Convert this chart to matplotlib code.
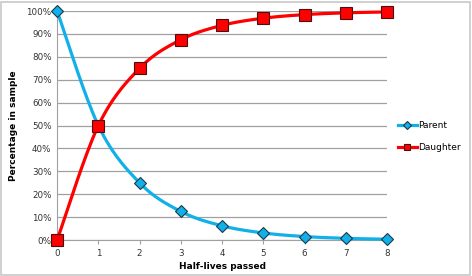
import matplotlib.pyplot as plt
import numpy as np
from matplotlib.patches import Rectangle
from matplotlib.lines import Line2D

half_lives = [0, 1, 2, 3, 4, 5, 6, 7, 8]
parent = [100, 50, 25, 12.5, 6.25, 3.13, 1.56, 0.78, 0.39]
daughter = [0, 50, 75, 87.5, 93.75, 96.87, 98.44, 99.22, 99.61]


def smooth(x, y, n=30, k=6.0):
    # bezier smoothing like excel's "smoothed line"
    x = np.asarray(x, float)
    y = np.asarray(y, float)
    px = np.concatenate([[x[0]], x, [x[-1]]])
    py = np.concatenate([[y[0]], y, [y[-1]]])
    xs, ys = [], []
    t = np.linspace(0, 1, n)
    for i in range(1, len(px) - 2):
        p0, p1, p2, p3 = [np.array([px[j], py[j]]) for j in (i - 1, i, i + 1, i + 2)]
        c1 = p1 + (p2 - p0) / k
        c2 = p2 - (p3 - p1) / k
        pts = ((1 - t) ** 3)[:, None] * p1 + (3 * (1 - t) ** 2 * t)[:, None] * c1 \
            + (3 * (1 - t) * t ** 2)[:, None] * c2 + (t ** 3)[:, None] * p2
        xs.extend(pts[:, 0])
        ys.extend(pts[:, 1])
    return xs, ys


blue = '#12B0E8'
red = '#FF0000'

fig = plt.figure(figsize=(4.72, 2.76), dpi=100)
ax = fig.add_axes([0.121, 0.130, 0.699, 0.830])

sx, sy = smooth(half_lives, parent)
ax.plot(sx, sy, color=blue, lw=2.3, clip_on=False, zorder=3)
ax.plot(half_lives, parent, ls='none', marker='D', ms=6.5, mfc=blue, mec='#1a3a4a',
        mew=0.8, clip_on=False, zorder=4)
sx, sy = smooth(half_lives, daughter)
ax.plot(sx, sy, color=red, lw=2.3, clip_on=False, zorder=3)
ax.plot(half_lives, daughter, ls='none', marker='s', ms=8, mfc=red, mec='#4a1010',
        mew=0.8, clip_on=False, zorder=4)

ax.set_xlim(0, 8)
ax.set_ylim(0, 100)
ax.set_yticks(range(0, 101, 10))
ax.set_yticklabels([f'{v}%' for v in range(0, 101, 10)])
ax.set_xticks(half_lives)
ax.grid(axis='y', color='#a0a0a0', lw=0.9)
ax.set_axisbelow(True)
for s in ['top', 'right']:
    ax.spines[s].set_visible(False)
ax.spines['left'].set_color('#a0a0a0')
ax.spines['bottom'].set_color('#a0a0a0')
ax.tick_params(axis='both', labelsize=6.3, colors='#333333', length=3, color='#a0a0a0')
ax.tick_params(axis='y', length=0, pad=4)
ax.set_xlabel('Half-lives passed', fontsize=6.5, fontweight='bold', labelpad=3)
ax.set_ylabel('Percentage in sample', fontsize=6.5, fontweight='bold', labelpad=6)

h1 = Line2D([], [], color=blue, lw=2.3, marker='D', ms=4, mfc=blue, mec='#1a3a4a', mew=0.8)
h2 = Line2D([], [], color=red, lw=2.3, marker='s', ms=5, mfc=red, mec='#4a1010', mew=0.8)
fig.legend([h1, h2], ['Parent', 'Daughter'], loc='center left', bbox_to_anchor=(0.825, 0.505),
           frameon=False, fontsize=6.5, handlelength=2.2, handletextpad=0.1, labelspacing=1.4)

fig.patches.append(Rectangle((0.002, 0.004), 0.994, 0.99, transform=fig.transFigure,
                             fill=False, ec='#c8c8c8', lw=1.2))

fig.savefig('out.png', dpi=100)
